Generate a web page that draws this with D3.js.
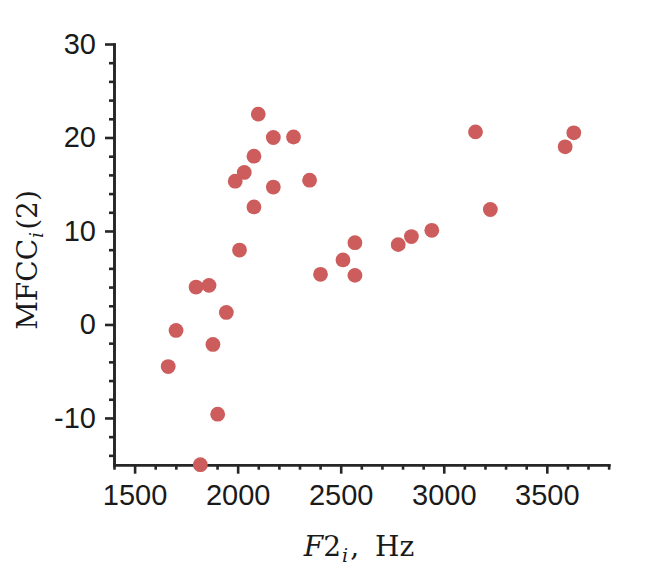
<!DOCTYPE html>
<html><head><meta charset="utf-8">
<script src="https://cdn.jsdelivr.net/npm/d3@7"></script>
<style>html,body{margin:0;padding:0;background:#fff;}</style>
</head><body>
<svg id="chart" width="669" height="569"></svg>
<script>
const f2Hz = [2100, 2173, 2271, 2079, 2032, 1988, 2173, 2349, 2079, 2009, 1798, 1861, 1945, 1701, 1880, 1663, 1903, 1819, 2402, 2511, 2569, 2569, 2779, 2843, 2942, 3154, 3226, 3589, 3631];
const mfcc2 = [22.5, 20.0, 20.05, 18.0, 16.26, 15.33, 14.7, 15.43, 12.57, 7.96, 4.0, 4.18, 1.29, -0.64, -2.14, -4.5, -9.6, -15.0, 5.36, 6.9, 8.75, 5.25, 8.54, 9.4, 10.07, 20.6, 12.3, 19.0, 20.5];
const xTicks = [1500, 2000, 2500, 3000, 3500];
const yTicks = [-10, 0, 10, 20, 30];
const xDomain = [1400, 3800];
const yDomain = [-15, 30];

(function () {
const svg = d3.select("#chart");
const mLeft = 114, mTop = 44, mBottom = 464.7;
const pxPerHz = 0.2061;
const mRight = mLeft + (xDomain[1] - xDomain[0]) * pxPerHz;
const x = d3.scaleLinear().domain(xDomain).range([mLeft, mRight]);
const y = d3.scaleLinear().domain(yDomain).range([mBottom, mTop]);
const axisColor = "#262626";
const lw = 2.6;
const fmt = d => String(d);

const xMinor = d3.range(xDomain[0], xDomain[1] + 1, 100).filter(v => !xTicks.includes(v));
const yMinor = d3.range(yDomain[1], yDomain[0] - 0.001, -2).filter(v => !yTicks.includes(v));

const gx = svg.append("g").attr("transform", `translate(0,${mBottom})`)
  .call(d3.axisBottom(x).tickValues(xTicks).tickFormat(fmt).tickSize(9).tickSizeOuter(0).tickPadding(11));
const gxm = svg.append("g").attr("transform", `translate(0,${mBottom})`)
  .call(d3.axisBottom(x).tickValues(xMinor).tickFormat("").tickSize(5).tickSizeOuter(0));
const gy = svg.append("g").attr("transform", `translate(${mLeft},0)`)
  .call(d3.axisLeft(y).tickValues(yTicks).tickFormat(fmt).tickSize(9).tickSizeOuter(0).tickPadding(9));
const gym = svg.append("g").attr("transform", `translate(${mLeft},0)`)
  .call(d3.axisLeft(y).tickValues(yMinor).tickFormat("").tickSize(5).tickSizeOuter(0));

[gx, gxm, gy, gym].forEach(g => {
  g.selectAll(".domain").attr("stroke", axisColor).attr("stroke-width", lw).attr("stroke-linecap", "square");
  g.selectAll(".tick line").attr("stroke", axisColor).attr("stroke-width", lw);
  g.selectAll(".tick text").attr("fill", "#1a1a1a").style("font-family", "'Liberation Sans', Arial, sans-serif").style("font-size", "29px");
});

svg.append("g").selectAll("circle")
  .data(f2Hz.map((v, i) => [v, mfcc2[i]]))
  .join("circle")
  .attr("cx", d => x(d[0])).attr("cy", d => y(d[1]))
  .attr("r", 7.4).attr("fill", "#cd5c5c");

const serif = "'DejaVu Serif', 'Liberation Serif', serif";
const xt = svg.append("text").attr("x", 359).attr("y", 556).attr("text-anchor", "middle")
  .style("font-family", serif).style("font-size", "28px").attr("fill", "#1a1a1a");
xt.append("tspan").style("font-style", "italic").text("F");
xt.append("tspan").text("2");
xt.append("tspan").style("font-style", "italic").style("font-size", "19px").attr("dx", 1).attr("dy", 6).text("i");
xt.append("tspan").attr("dy", -6).attr("dx", 2).text(",");
xt.append("tspan").attr("dx", 16).text("Hz");

const yt = svg.append("text").attr("transform", "translate(37,260) rotate(-90)").attr("text-anchor", "middle")
  .style("font-family", serif).style("font-size", "28px").attr("fill", "#1a1a1a");
yt.append("tspan").text("MFCC");
yt.append("tspan").style("font-style", "italic").style("font-size", "19px").attr("dx", 1).attr("dy", 6).text("i");
yt.append("tspan").attr("dy", -6).attr("dx", 2).text("(2)");
})();
</script>
</body></html>
